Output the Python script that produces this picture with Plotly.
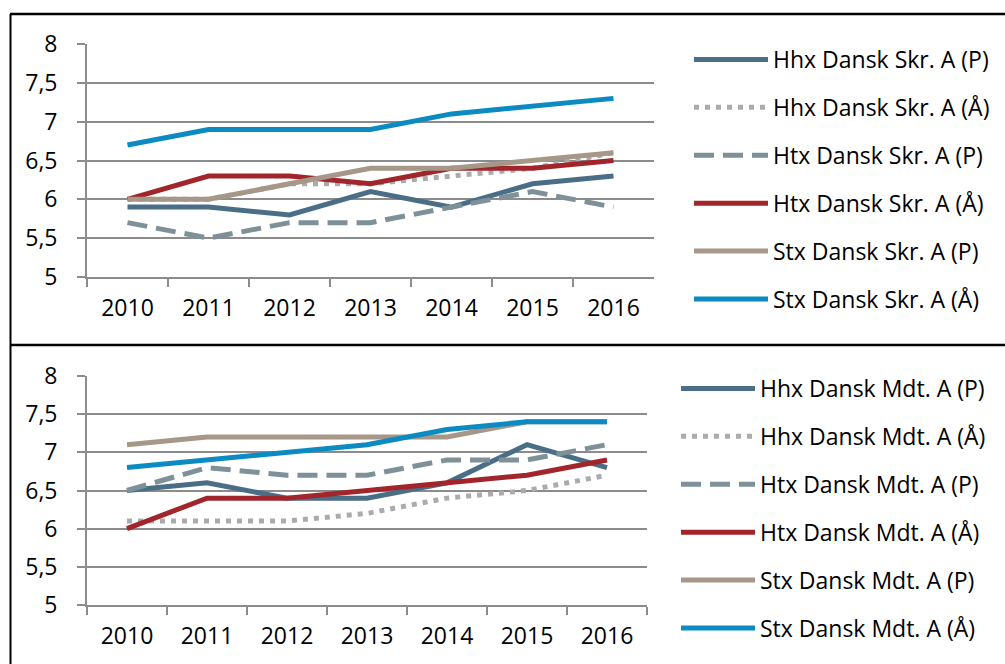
import plotly.graph_objects as go

years = ["2010", "2011", "2012", "2013", "2014", "2015", "2016"]

# Top chart: Dansk Skriftlig A
skr_names = ["Hhx Dansk Skr. A (P)", "Hhx Dansk Skr. A (Å)", "Htx Dansk Skr. A (P)",
             "Htx Dansk Skr. A (Å)", "Stx Dansk Skr. A (P)", "Stx Dansk Skr. A (Å)"]
skr_hhx_p = [5.9, 5.9, 5.8, 6.1, 5.9, 6.2, 6.3]
skr_hhx_a = [6.0, 6.0, 6.2, 6.2, 6.3, 6.4, 6.6]
skr_htx_p = [5.7, 5.5, 5.7, 5.7, 5.9, 6.1, 5.9]
skr_htx_a = [6.0, 6.3, 6.3, 6.2, 6.4, 6.4, 6.5]
skr_stx_p = [6.0, 6.0, 6.2, 6.4, 6.4, 6.5, 6.6]
skr_stx_a = [6.7, 6.9, 6.9, 6.9, 7.1, 7.2, 7.3]

# Bottom chart: Dansk Mundtlig A
mdt_names = ["Hhx Dansk Mdt. A (P)", "Hhx Dansk Mdt. A (Å)", "Htx Dansk Mdt. A (P)",
             "Htx Dansk Mdt. A (Å)", "Stx Dansk Mdt. A (P)", "Stx Dansk Mdt. A (Å)"]
mdt_hhx_p = [6.5, 6.6, 6.4, 6.4, 6.6, 7.1, 6.8]
mdt_hhx_a = [6.1, 6.1, 6.1, 6.2, 6.4, 6.5, 6.7]
mdt_htx_p = [6.5, 6.8, 6.7, 6.7, 6.9, 6.9, 7.1]
mdt_htx_a = [6.0, 6.4, 6.4, 6.5, 6.6, 6.7, 6.9]
mdt_stx_p = [7.1, 7.2, 7.2, 7.2, 7.2, 7.4, 7.4]
mdt_stx_a = [6.8, 6.9, 7.0, 7.1, 7.3, 7.4, 7.4]

y_ticks = [5, 5.5, 6, 6.5, 7, 7.5, 8]

colors = ["#4B6E87", "#ABABAB", "#7E9199", "#A2252B", "#A69789", "#0B8BC2"]
dashes = ["solid", "5px,6px", "20px,9px", "solid", "solid", "solid"]

W, H = 1005, 664
FONT = "Open Sans"
FS = 23

fig = go.Figure()

top_series = [skr_hhx_p, skr_hhx_a, skr_htx_p, skr_htx_a, skr_stx_p, skr_stx_a]
bot_series = [mdt_hhx_p, mdt_hhx_a, mdt_htx_p, mdt_htx_a, mdt_stx_p, mdt_stx_a]

for i, (name, vals) in enumerate(zip(skr_names, top_series)):
    fig.add_trace(go.Scatter(
        x=years, y=vals, name=name, mode="lines",
        line=dict(color=colors[i], width=5, dash=dashes[i]),
        xaxis="x", yaxis="y", legend="legend", legendgroup="t%d" % i,
        hoverinfo="skip"))
for i, (name, vals) in enumerate(zip(mdt_names, bot_series)):
    fig.add_trace(go.Scatter(
        x=years, y=vals, name=name, mode="lines",
        line=dict(color=colors[i], width=5, dash=dashes[i]),
        xaxis="x2", yaxis="y2", legend="legend2", legendgroup="b%d" % i,
        hoverinfo="skip"))

def px_x(p):
    return p / W

def px_y(p):
    return 1 - p / H

grid_col = "#8C8C8C"
xaxis_common = dict(
    type="category", range=[-0.5, 6.5], showgrid=False, showline=True,
    linecolor=grid_col, linewidth=1.8, ticks="outside", tickson="boundaries",
    ticklen=8, tickcolor=grid_col, tickwidth=1.8, ticklabelstandoff=9,
    tickfont=dict(family=FONT, size=FS, color="black"), fixedrange=True,
)
yaxis_common = dict(
    range=[5, 8], tickvals=y_ticks, showgrid=True, gridcolor=grid_col,
    gridwidth=1.8, showline=True, linecolor=grid_col, linewidth=1.8,
    ticks="outside", ticklen=8, tickcolor=grid_col, tickwidth=1.8,
    ticklabelstandoff=15, zeroline=False,
    tickfont=dict(family=FONT, size=FS, color="black"), fixedrange=True,
)

legend_common = dict(
    font=dict(family=FONT, size=FS, color="black"), bgcolor="rgba(0,0,0,0)",
    borderwidth=0, itemwidth=74, tracegroupgap=15, traceorder="grouped",
    xanchor="left", yanchor="top", itemclick=False, itemdoubleclick=False,
)

fig.update_layout(
    width=W, height=H, margin=dict(l=0, r=0, t=0, b=0, autoexpand=False),
    paper_bgcolor="white", plot_bgcolor="white",
    separators=", ",
    font=dict(family=FONT, size=FS, color="black"),
    xaxis=dict(domain=[px_x(87), px_x(654)], anchor="y", **xaxis_common),
    yaxis=dict(domain=[px_y(277), px_y(44)], anchor="x", **yaxis_common),
    xaxis2=dict(domain=[px_x(87), px_x(647)], anchor="y2", **xaxis_common),
    yaxis2=dict(domain=[px_y(605), px_y(376)], anchor="x2", **yaxis_common),
    legend=dict(x=px_x(689), y=px_y(38), **legend_common),
    legend2=dict(x=px_x(676), y=px_y(367), **legend_common),
    showlegend=True,
    shapes=[
        dict(type="line", xref="paper", yref="paper", x0=px_x(10), x1=1.0,
             y0=px_y(14), y1=px_y(14), line=dict(color="black", width=2.5)),
        dict(type="line", xref="paper", yref="paper", x0=px_x(10), x1=1.0,
             y0=px_y(345), y1=px_y(345), line=dict(color="black", width=2.5)),
        dict(type="line", xref="paper", yref="paper", x0=px_x(10.5), x1=px_x(10.5),
             y0=px_y(14), y1=0, line=dict(color="black", width=2)),
    ],
)

post = ("document.body.style.margin='0';document.body.style.overflow='hidden';"
        "var d=document.getElementById('{plot_id}');"
        "d.style.position='absolute';d.style.left='0px';d.style.top='0px';")

fig.write_html("out.html", post_script=post, config={"displayModeBar": False})
